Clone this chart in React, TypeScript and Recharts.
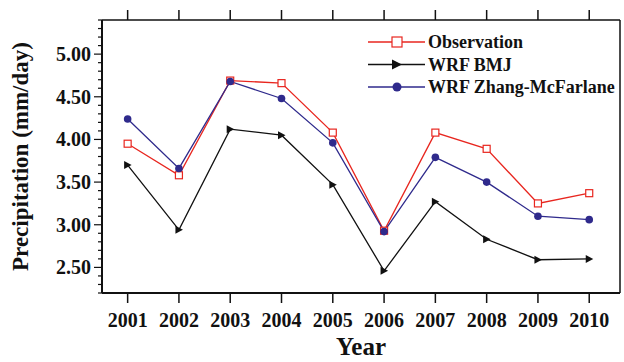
import {
  LineChart,
  Line,
  XAxis,
  YAxis,
} from 'recharts'

const YEARS = [2001, 2002, 2003, 2004, 2005, 2006, 2007, 2008, 2009, 2010]
const OBSERVATION = [3.95, 3.58, 4.69, 4.66, 4.08, 2.93, 4.08, 3.89, 3.25, 3.37]
const WRF_BMJ = [3.7, 2.94, 4.12, 4.05, 3.47, 2.46, 3.27, 2.83, 2.59, 2.6]
const WRF_ZM = [4.24, 3.66, 4.68, 4.48, 3.96, 2.92, 3.79, 3.5, 3.1, 3.06]

const Y_TICKS = [
  2.2, 2.3, 2.4, 2.5, 2.6, 2.7, 2.8, 2.9, 3.0, 3.1, 3.2, 3.3, 3.4, 3.5, 3.6, 3.7,
  3.8, 3.9, 4.0, 4.1, 4.2, 4.3, 4.4, 4.5, 4.6, 4.7, 4.8, 4.9, 5.0, 5.1, 5.2, 5.3, 5.4,
]
const Y_LABELED = [2.5, 3.0, 3.5, 4.0, 4.5, 5.0]

const SERIES_NAMES = ['Observation', 'WRF BMJ', 'WRF Zhang-McFarlane']

const RED = '#e8261f'
const NAVY = '#2f2a8c'
const FONT = '"Liberation Serif", "Times New Roman", serif'

const data = YEARS.map((year, i) => ({
  year,
  obs: OBSERVATION[i],
  bmj: WRF_BMJ[i],
  zm: WRF_ZM[i],
}))

const isMajor = (v: number) => Y_LABELED.some((m) => Math.abs(m - v) < 1e-6)

function LeftTick({ x, y, payload }: any) {
  const major = isMajor(payload.value)
  return (
    <g>
      <line x1={x} x2={x - (major ? 8 : 4)} y1={y} y2={y} stroke="#111" strokeWidth={1.2} />
      {major && (
        <text x={x - 11} y={y + 7} textAnchor="end" fontFamily={FONT} fontWeight="bold" fontSize={20} fill="#111">
          {payload.value.toFixed(2)}
        </text>
      )}
    </g>
  )
}

function RightTick({ x, y, payload }: any) {
  const major = isMajor(payload.value)
  return <line x1={x} x2={x + (major ? 7 : 4)} y1={y} y2={y} stroke="#111" strokeWidth={1.2} />
}

function BottomTick({ x, y, payload }: any) {
  return (
    <g>
      <line x1={x} x2={x} y1={y} y2={y + 10} stroke="#111" strokeWidth={1.5} />
      <text x={x} y={y + 34} textAnchor="middle" fontFamily={FONT} fontWeight="bold" fontSize={20} fill="#111">
        {payload.value}
      </text>
    </g>
  )
}

function TopTick({ x, y }: any) {
  return <line x1={x} x2={x} y1={y} y2={y - 10} stroke="#111" strokeWidth={1.5} />
}

function SquareDot({ cx, cy }: any) {
  return <rect x={cx - 3.5} y={cy - 3.5} width={7} height={7} fill="#fff" stroke={RED} strokeWidth={1.2} />
}

function TriDot({ cx, cy }: any) {
  return <path d={`M${cx - 3.5},${cy - 4} L${cx + 4},${cy} L${cx - 3.5},${cy + 4} Z`} fill="#111" />
}

function CircleDot({ cx, cy }: any) {
  return <circle cx={cx} cy={cy} r={3.8} fill={NAVY} />
}

function LegendBox() {
  const colors = [RED, '#111', NAVY]
  return (
    <svg width={255} height={70} style={{ position: 'absolute', left: 365, top: 30 }}>
      {SERIES_NAMES.map((name, i) => {
        const y = 12 + i * 22.5
        return (
          <g key={name}>
            <line x1={3} x2={60} y1={y} y2={y} stroke={colors[i]} strokeWidth={1.3} />
            {i === 0 && <rect x={27} y={y - 5} width={10} height={10} fill="#fff" stroke={RED} strokeWidth={1.2} />}
            {i === 1 && <path d={`M${27},${y - 5} L${37},${y} L${27},${y + 5} Z`} fill="#111" />}
            {i === 2 && <circle cx={32} cy={y} r={4.5} fill={NAVY} />}
            <text x={63} y={y + 6} fontFamily={FONT} fontWeight="bold" fontSize={18} fill="#111">
              {name}
            </text>
          </g>
        )
      })}
    </svg>
  )
}

export default function App() {
  return (
    <div style={{ position: 'absolute', left: 0, top: 0, width: 624, height: 362, background: '#fff' }}>
      <LineChart width={624} height={362} data={data} margin={{ top: 0, right: 0, bottom: 0, left: 0 }}>
        <XAxis
          dataKey="year"
          type="number"
          domain={[2000.5, 2010.6]}
          ticks={YEARS}
          interval={0}
          height={69}
          tickSize={0}
          tickMargin={0}
          tick={<BottomTick />}
          axisLine={{ stroke: '#111', strokeWidth: 2 }}
          tickLine={false}
          label={({ viewBox }: any) => (
            <text x={viewBox.x + viewBox.width / 2} y={355} textAnchor="middle" fontFamily={FONT} fontWeight="bold" fontSize={25} fill="#111">
              Year
            </text>
          )}
        />
        <XAxis
          xAxisId="top"
          orientation="top"
          dataKey="year"
          type="number"
          domain={[2000.5, 2010.6]}
          ticks={YEARS}
          interval={0}
          height={20}
          tickSize={0}
          tickMargin={0}
          tick={<TopTick />}
          axisLine={{ stroke: '#111', strokeWidth: 1.5 }}
          tickLine={false}
        />
        <YAxis
          type="number"
          domain={[2.2, 5.4]}
          ticks={Y_TICKS}
          width={102}
          tickSize={0}
          tickMargin={0}
          interval={0}
          tick={<LeftTick />}
          axisLine={{ stroke: '#111', strokeWidth: 2 }}
          tickLine={false}
          label={({ viewBox }: any) => {
            const cy = viewBox.y + viewBox.height / 2
            return (
              <text x={28} y={cy} transform={`rotate(-90 28 ${cy})`} textAnchor="middle" fontFamily={FONT} fontWeight="bold" fontSize={23} fill="#111">
                Precipitation (mm/day)
              </text>
            )
          }}
        />
        <YAxis
          yAxisId="right"
          orientation="right"
          type="number"
          domain={[2.2, 5.4]}
          ticks={Y_TICKS}
          width={4}
          tickSize={0}
          tickMargin={0}
          interval={0}
          tick={<RightTick />}
          axisLine={{ stroke: '#111', strokeWidth: 1.5 }}
          tickLine={false}
        />
        <Line dataKey="obs" name={SERIES_NAMES[0]} stroke={RED} strokeWidth={1.3} dot={<SquareDot />} activeDot={false} isAnimationActive={false} />
        <Line dataKey="bmj" name={SERIES_NAMES[1]} stroke="#111" strokeWidth={1.3} dot={<TriDot />} activeDot={false} isAnimationActive={false} />
        <Line dataKey="zm" name={SERIES_NAMES[2]} stroke={NAVY} strokeWidth={1.3} dot={<CircleDot />} activeDot={false} isAnimationActive={false} />
      </LineChart>
      <LegendBox />
    </div>
  )
}
